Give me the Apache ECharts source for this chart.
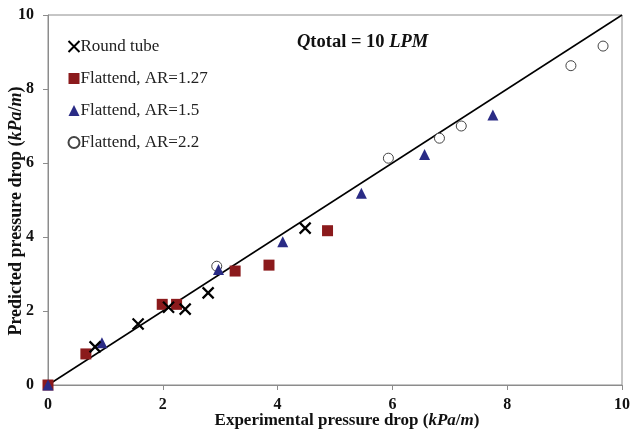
<!DOCTYPE html>
<html>
<head>
<meta charset="utf-8">
<script src="https://cdn.jsdelivr.net/npm/echarts@6/dist/echarts.min.js"></script>
<style>
  html, body { margin: 0; padding: 0; background: #fff; }
  #main { width: 630px; height: 432px; }
</style>
</head>
<body>
<div id="main"></div>
<script>
// data: [experimental, predicted] in kPa/m
const roundTube = [[0.82, 1.03], [1.57, 1.65], [2.10, 2.10], [2.39, 2.05], [2.79, 2.49], [4.48, 4.24]];
const flatAR127 = [[0, 0], [0.66, 0.84], [1.99, 2.18], [2.24, 2.18], [3.26, 3.08], [3.85, 3.24], [4.87, 4.17]];
const flatAR15 = [[0, 0], [0.94, 1.14], [2.97, 3.12], [4.09, 3.87], [5.46, 5.18], [6.56, 6.23], [7.75, 7.30]];
const flatAR22 = [[2.94, 3.21], [5.93, 6.13], [6.82, 6.67], [7.20, 7.00], [9.11, 8.63], [9.67, 9.16]];
const idealLine = [[0, 0], [10, 10]];
const seriesNames = ['Round tube', 'Flattend, AR=1.27', 'Flattend, AR=1.5', 'Flattend, AR=2.2'];

const serif = '"Liberation Serif", "Times New Roman", serif';
const crossPath = 'path://M0,0 L10,10 M10,0 L0,10';

// rich styles for bold / bold italic titles
function titleRich(size) {
  return {
    b: { fontFamily: serif, fontSize: size, fontWeight: 'bold', fill: '#111' },
    i: { fontFamily: serif, fontSize: size, fontWeight: 'bold', fontStyle: 'italic', fill: '#111' }
  };
}

const chart = echarts.init(document.getElementById('main'));

const option = {
  backgroundColor: '#fff',
  animation: false,
  grid: {
    left: 48, right: 8, top: 15, bottom: 47,
    outerBoundsMode: 'none',
    show: true, borderColor: '#8c8c8c', borderWidth: 1
  },
  legend: {
    data: seriesNames,
    orient: 'vertical',
    left: 61, top: 33,
    itemGap: 15,
    itemWidth: 11, itemHeight: 11,
    textStyle: { fontFamily: serif, fontSize: 17, color: '#222', padding: [0, 0, 0, -4] }
  },
  xAxis: {
    type: 'value', min: 0, max: 10, interval: 2,
    axisLine: { lineStyle: { color: '#8c8c8c' } },
    axisTick: { show: true, length: 5, lineStyle: { color: '#8c8c8c' } },
    axisLabel: { fontFamily: serif, fontSize: 16, fontWeight: 'bold', color: '#111', margin: 12 },
    splitLine: { show: false }
  },
  yAxis: {
    type: 'value', min: 0, max: 10, interval: 2,
    axisLine: { show: true, lineStyle: { color: '#8c8c8c' } },
    axisTick: { show: true, length: 5, lineStyle: { color: '#8c8c8c' } },
    axisLabel: { fontFamily: serif, fontSize: 16, fontWeight: 'bold', color: '#111', margin: 14 },
    splitLine: { show: false }
  },
  graphic: [
    {
      type: 'text', x: 297, y: 42,
      style: {
        text: '{i|Q}{b|total = 10 }{i|LPM}',
        verticalAlign: 'middle',
        rich: titleRich(18.5)
      }
    },
    {
      type: 'text', x: 347, y: 421,
      style: {
        text: '{b|Experimental pressure drop (}{i|kPa}{b|/}{i|m}{b|)}',
        align: 'center', verticalAlign: 'middle',
        rich: titleRich(17)
      }
    },
    {
      type: 'text', x: 16, y: 211, rotation: Math.PI / 2,
      style: {
        text: '{b|Predicted pressure drop (}{i|kPa}{b|/}{i|m}{b|)}',
        align: 'center', verticalAlign: 'middle',
        rich: titleRich(18)
      }
    }
  ],
  series: [
    {
      name: 'ideal', type: 'line', data: idealLine, symbol: 'none',
      lineStyle: { color: '#000', width: 1.5 }, z: 1, silent: true
    },
    {
      name: seriesNames[0], type: 'scatter', data: roundTube,
      symbol: crossPath, symbolSize: 11,
      itemStyle: { color: 'none', borderColor: '#000', borderWidth: 2.2, opacity: 1 }, z: 5
    },
    {
      name: seriesNames[1], type: 'scatter', data: flatAR127,
      symbol: 'rect', symbolSize: 11,
      itemStyle: { color: '#8b1a1c', opacity: 1 }, z: 3
    },
    {
      name: seriesNames[2], type: 'scatter', data: flatAR15,
      symbol: 'triangle', symbolSize: 11,
      itemStyle: { color: '#2a2b85', opacity: 1 }, z: 4
    },
    {
      name: seriesNames[3], type: 'scatter', data: flatAR22,
      symbol: 'circle', symbolSize: 10,
      itemStyle: { color: '#fff', borderColor: '#444', borderWidth: 1, opacity: 1 }, z: 2
    }
  ]
};

chart.setOption(option);
</script>
</body>
</html>
